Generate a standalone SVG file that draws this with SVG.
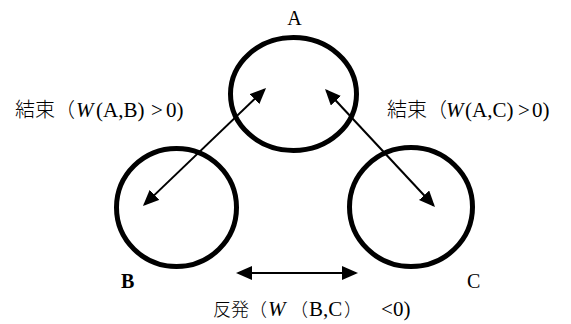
<svg xmlns="http://www.w3.org/2000/svg" width="571" height="324" viewBox="0 0 571 324">
<style>
.node{fill:none;stroke:#000;stroke-width:5}
.lbl{font-family:"Liberation Serif",serif;fill:#000}
.cjk{font-family:"Noto Sans CJK JP",sans-serif;fill:#000;font-weight:300}
.conn{stroke:#000;stroke-width:2;fill:none}
.it{font-style:italic}
</style>
<defs>
<marker id="ah" viewBox="0 0 16 14" markerWidth="16" markerHeight="14" refX="14" refY="7" orient="auto-start-reverse" markerUnits="userSpaceOnUse">
<path d="M0,0 L16,7 L0,14 Z" fill="#000"/>
</marker>
</defs>
<rect width="571" height="324" fill="#fff"/>
<g id="node-A">
<ellipse class="node" cx="293.5" cy="94" rx="63" ry="56.5"/>
<text class="lbl" x="294.5" y="25" font-size="20" text-anchor="middle">A</text>
</g>
<g id="node-B">
<ellipse class="node" cx="176.5" cy="207.5" rx="60" ry="59"/>
<text class="lbl" x="121" y="288" font-size="20" font-weight="bold">B</text>
</g>
<g id="node-C">
<ellipse class="node" cx="411" cy="207" rx="61.5" ry="59.5"/>
<text class="lbl" x="467" y="288" font-size="20">C</text>
</g>
<g id="connectors">
<line class="conn" x1="264.6" y1="89.4" x2="144.4" y2="204.6" marker-start="url(#ah)" marker-end="url(#ah)"/>
<line class="conn" x1="326.4" y1="90.5" x2="433.6" y2="205.5" marker-start="url(#ah)" marker-end="url(#ah)"/>
<line class="conn" x1="238" y1="273" x2="356" y2="273" marker-start="url(#ah)" marker-end="url(#ah)"/>
</g>
<g id="label-AB">
<text class="cjk" x="15" y="117" font-size="20">結束（</text>
<text class="lbl" y="117" font-size="21"><tspan x="76" class="it">W</tspan><tspan x="96">(A,B)</tspan><tspan x="151">&gt;</tspan><tspan x="166">0)</tspan></text>
</g>
<g id="label-AC">
<text class="cjk" x="387" y="117" font-size="20">結束（</text>
<text class="lbl" y="117" font-size="21"><tspan x="446" class="it">W</tspan><tspan x="465">(A,C)</tspan><tspan x="518">&gt;</tspan><tspan x="532">0)</tspan></text>
</g>
<g id="label-BC">
<text class="cjk" x="213" y="316" font-size="18">反発（</text>
<text class="lbl" y="316" font-size="21"><tspan x="268" class="it">W</tspan></text>
<text class="cjk" x="290" y="316" font-size="18">（</text>
<text class="lbl" x="309" y="316" font-size="21">B,C</text>
<text class="cjk" x="344" y="316" font-size="18">）</text>
<text class="lbl" y="316" font-size="21"><tspan x="381">&lt;</tspan><tspan x="393">0)</tspan></text>
</g>
</svg>
